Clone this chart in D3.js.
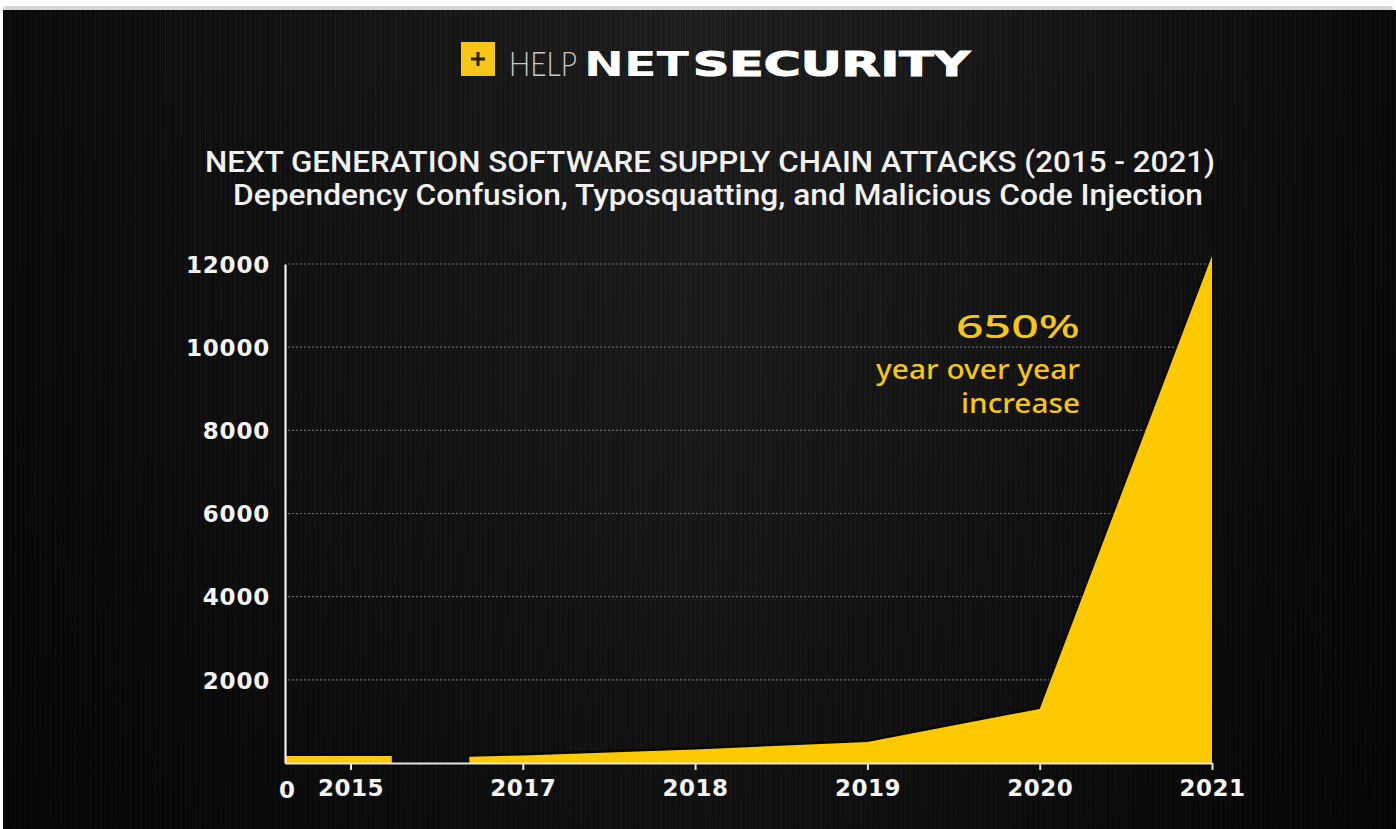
<!DOCTYPE html>
<html>
<head>
<meta charset="utf-8">
<script src="https://cdn.jsdelivr.net/npm/d3@7"></script>
<style>
  html, body { margin: 0; padding: 0; background: #ffffff; }
  svg { display: block; }
</style>
</head>
<body>
<svg id="chart" width="1396" height="829"></svg>
<script>
// ---------------- DATA ----------------
const categories = ["2015", "2017", "2018", "2019", "2020", "2021"];
const categoryIndex = [0, 1, 2, 3, 4, 5];
const yTickValues = [2000, 4000, 6000, 8000, 10000, 12000];
// 2015 block (flat), on fractional category positions
const seg2015Pos = [-0.38, 0.24];
const seg2015Vals = [170, 170];
// 2017-2021 series (starts a little before 2017)
const segMainPos = [0.69, 1, 2, 3, 4, 5];
const segMainVals = [150, 180, 325, 505, 1300, 12200];
const titleText = "NEXT GENERATION SOFTWARE SUPPLY CHAIN ATTACKS (2015 - 2021)";
const subtitleText = "Dependency Confusion, Typosquatting, and Malicious Code Injection";
const calloutLines = ["650%", "year over year", "increase"];

// ---------------- SETUP ----------------
const svg = d3.select("#chart");
const W = 1396, H = 829;
const defs = svg.append("defs");

const bgGrad = defs.append("linearGradient").attr("id", "bgH").attr("x1", 0).attr("x2", 1).attr("y1", 0).attr("y2", 0);
[[0, "#0a0a0a"], [0.25, "#141414"], [0.5, "#1e1e1e"], [0.72, "#171717"], [1, "#090909"]]
  .forEach(([o, c]) => bgGrad.append("stop").attr("offset", o).attr("stop-color", c));
const vGrad = defs.append("linearGradient").attr("id", "bgV").attr("x1", 0).attr("x2", 0).attr("y1", 0).attr("y2", 1);
[[0, "#000", 0], [0.5, "#000", 0.15], [1, "#000", 0.45]]
  .forEach(([o, c, a]) => vGrad.append("stop").attr("offset", o).attr("stop-color", c).attr("stop-opacity", a));
const streak = defs.append("pattern").attr("id", "streak").attr("width", 5).attr("height", 10).attr("patternUnits", "userSpaceOnUse");
streak.append("rect").attr("x", 0).attr("width", 1).attr("height", 10).attr("fill", "rgba(255,255,255,0.025)");
streak.append("rect").attr("x", 3).attr("width", 1).attr("height", 10).attr("fill", "rgba(0,0,0,0.12)");

// frame
svg.append("rect").attr("x", 3).attr("y", 6).attr("width", 1390).attr("height", 12).attr("rx", 3).attr("fill", "#d6d6d6");
svg.append("rect").attr("x", 3).attr("y", 10).attr("width", W - 3).attr("height", H - 10).attr("fill", "url(#bgH)");
svg.append("rect").attr("x", 3).attr("y", 10).attr("width", W - 3).attr("height", H - 10).attr("fill", "url(#streak)");
svg.append("rect").attr("x", 3).attr("y", 10).attr("width", W - 3).attr("height", H - 10).attr("fill", "url(#bgV)");

// ---------------- LOGO ----------------
const logo = svg.append("g");
logo.append("rect").attr("x", 461).attr("y", 42).attr("width", 34).attr("height", 34).attr("fill", "#f5c518");
logo.append("path").attr("d", "M478,52 V66 M471,59 H485").attr("stroke", "#2a2200").attr("stroke-width", 3);
logo.append("text").attr("x", 509).attr("y", 76).text("HELP")
  .attr("font-family", "Lato, 'Open Sans', sans-serif").attr("font-weight", 300).attr("font-size", 33)
  .attr("fill", "#c8c8c8").attr("textLength", 68).attr("lengthAdjust", "spacingAndGlyphs");
logo.append("text").attr("x", 584).attr("y", 76).text("NET")
  .attr("font-family", "'DejaVu Sans', sans-serif").attr("font-weight", 700).attr("font-size", 34)
  .attr("fill", "#ffffff").attr("textLength", 105).attr("lengthAdjust", "spacingAndGlyphs");
logo.append("text").attr("x", 693).attr("y", 76).text("SECURITY")
  .attr("font-family", "'DejaVu Sans', sans-serif").attr("font-weight", 700).attr("font-size", 34)
  .attr("fill", "#ffffff").attr("stroke", "#ffffff").attr("stroke-width", 1.2)
  .attr("textLength", 277).attr("lengthAdjust", "spacingAndGlyphs");

// ---------------- TITLES ----------------
svg.append("text").attr("x", 710).attr("y", 172).attr("text-anchor", "middle").text(titleText)
  .attr("font-family", "Roboto, sans-serif").attr("font-weight", 500).attr("font-size", 30)
  .attr("fill", "#f2f2f2").attr("textLength", 1010).attr("lengthAdjust", "spacingAndGlyphs");
svg.append("text").attr("x", 718).attr("y", 205).attr("text-anchor", "middle").text(subtitleText)
  .attr("font-family", "Roboto, sans-serif").attr("font-weight", 500).attr("font-size", 30)
  .attr("fill", "#f2f2f2").attr("textLength", 970).attr("lengthAdjust", "spacingAndGlyphs");

// ---------------- SCALES ----------------
const x = d3.scaleLinear().domain([-0.38, 5]).range([285, 1212]);
const y = d3.scaleLinear().domain([0, 12000]).range([763, 264]);

// gridlines
svg.append("g").selectAll("line").data(yTickValues).join("line")
  .attr("x1", x(-0.38) + 3).attr("x2", x(5))
  .attr("y1", d => y(d)).attr("y2", d => y(d))
  .attr("stroke", "#6a6a6a").attr("stroke-width", 1.2).attr("stroke-dasharray", "2,2");

// areas
const area = d3.area().x(d => x(d[0])).y0(y(0)).y1(d => y(d[1]));
const line = d3.line().x(d => x(d[0])).y(d => y(d[1]));
const segA = seg2015Pos.map((p, i) => [p, seg2015Vals[i]]);
const segB = segMainPos.map((p, i) => [p, segMainVals[i]]);
[segA, segB].forEach(seg => {
  svg.append("path").datum(seg).attr("d", line).attr("fill", "none")
    .attr("stroke", "#000").attr("stroke-opacity", 0.55).attr("stroke-width", 3).attr("transform", "translate(0,-1)");
  svg.append("path").datum(seg).attr("d", area).attr("fill", "#fdca00");
});

// y axis
const yAxis = svg.append("g").attr("transform", `translate(${x(-0.38)},0)`)
  .call(d3.axisLeft(y).tickValues(yTickValues).tickSize(0).tickSizeOuter(0).tickPadding(15).tickFormat(d3.format("d")));
yAxis.select(".domain").attr("stroke", "#f0f0f0").attr("stroke-width", 2.2);
yAxis.selectAll("text").attr("fill", "#f4f4f4").attr("font-family", "'DejaVu Sans', sans-serif")
  .attr("font-weight", 700).attr("font-size", 23).attr("letter-spacing", 0.8).attr("dy", "0.36em");

// x axis
const xAxis = svg.append("g").attr("transform", `translate(0,${y(0)})`)
  .call(d3.axisBottom(x).tickValues(categoryIndex).tickFormat(i => categories[i]).tickSize(7).tickSizeOuter(0).tickPadding(10));
xAxis.select(".domain").attr("stroke", "#e6e6e6").attr("stroke-width", 2.2);
xAxis.selectAll(".tick line").attr("stroke", "#e6e6e6").attr("stroke-width", 2);
xAxis.selectAll("text").attr("fill", "#f4f4f4").attr("font-family", "'DejaVu Sans', sans-serif")
  .attr("font-weight", 700).attr("font-size", 23).attr("letter-spacing", 0.5);

// zero label at origin
svg.append("text").attr("x", x(-0.38) + 2).attr("y", 798).attr("text-anchor", "middle").text("0")
  .attr("fill", "#f4f4f4").attr("font-family", "'DejaVu Sans', sans-serif").attr("font-weight", 700).attr("font-size", 23);

// ---------------- CALLOUT ----------------
const callout = svg.append("g").attr("fill", "#f5c518").attr("text-anchor", "end");
callout.append("text").attr("x", 1080).attr("y", 338).text(calloutLines[0])
  .attr("font-family", "'Noto Sans', sans-serif").attr("font-weight", 500).attr("font-size", 33)
  .attr("textLength", 124).attr("lengthAdjust", "spacingAndGlyphs");
callout.append("text").attr("x", 1080).attr("y", 379).text(calloutLines[1])
  .attr("font-family", "'Noto Sans', sans-serif").attr("font-weight", 500).attr("font-size", 27)
  .attr("textLength", 204).attr("lengthAdjust", "spacingAndGlyphs");
callout.append("text").attr("x", 1080).attr("y", 413).text(calloutLines[2])
  .attr("font-family", "'Noto Sans', sans-serif").attr("font-weight", 500).attr("font-size", 27)
  .attr("textLength", 119).attr("lengthAdjust", "spacingAndGlyphs");
</script>
</body>
</html>
